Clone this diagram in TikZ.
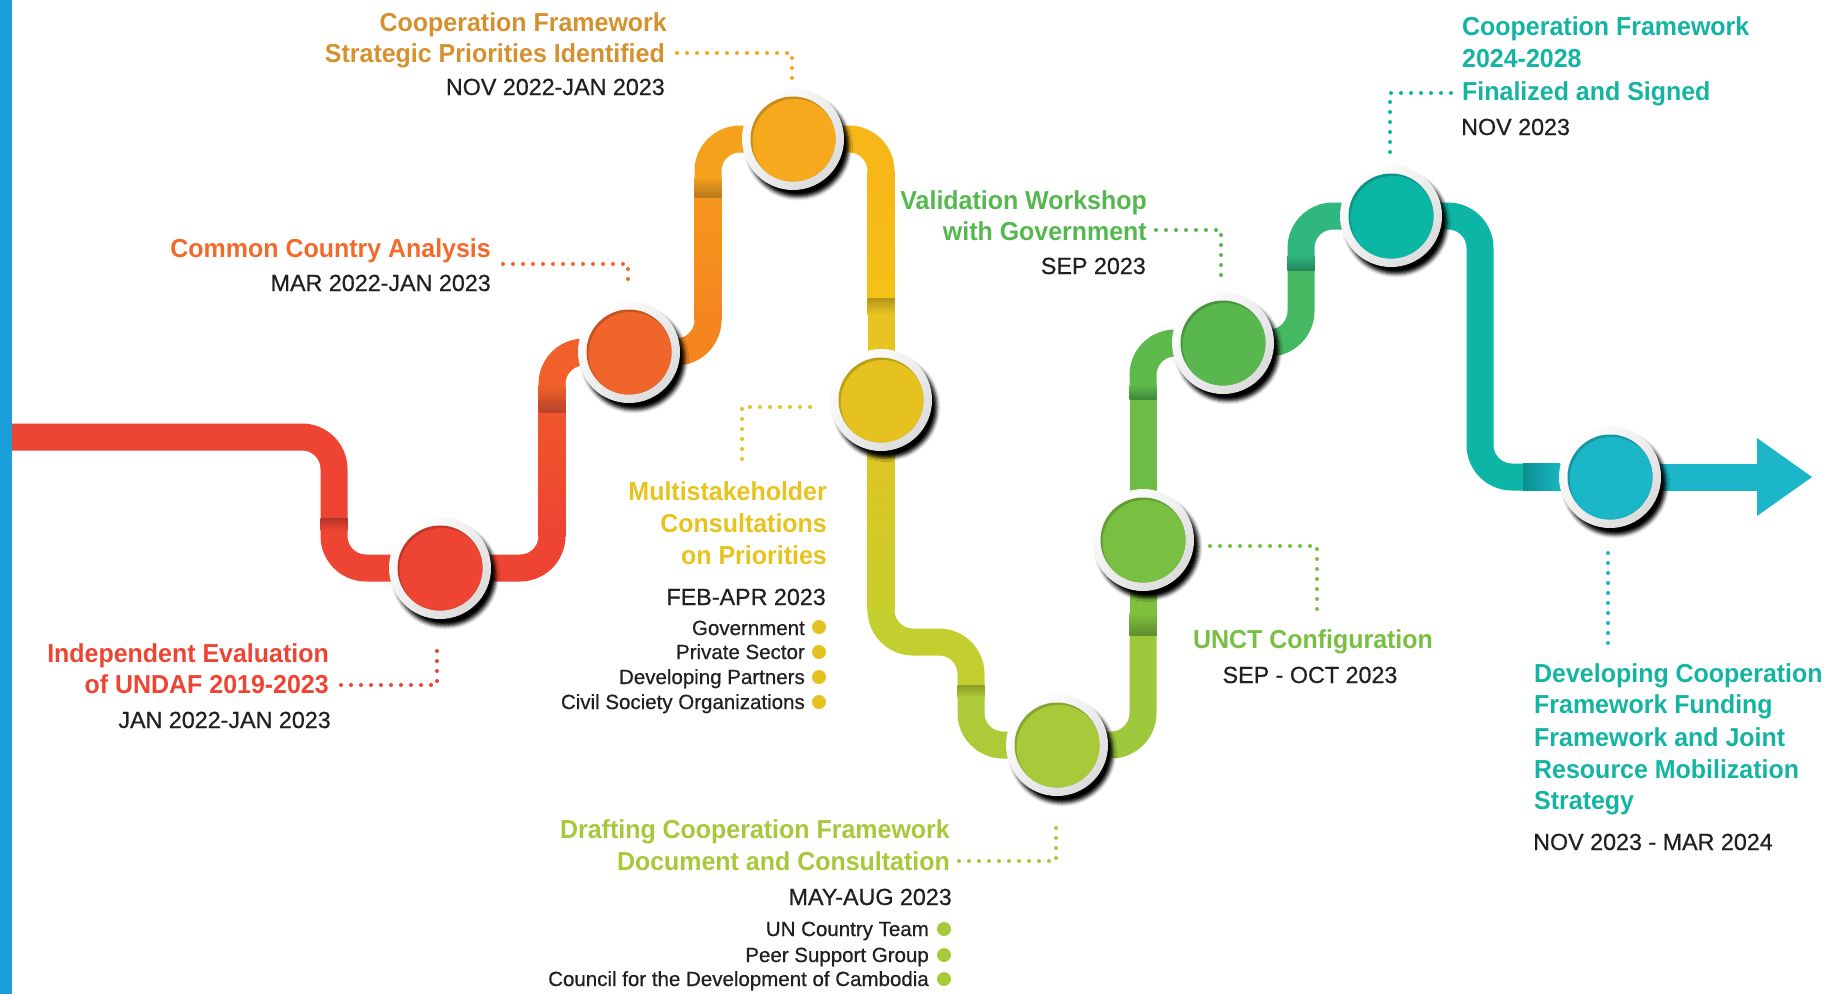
\documentclass[tikz,border=0pt]{standalone}
\usepackage{fontspec}
\setmainfont{Liberation Sans}
\newfontfamily\titlefont[FakeStretch=0.96]{Liberation Sans}
\newfontfamily\datefont[FakeBold=0.6]{Liberation Sans}
\usetikzlibrary{shadows.blur}
\definecolor{cBlue}{HTML}{1A9FDB}
\definecolor{cDark}{HTML}{231F20}
\definecolor{cC1}{HTML}{EE4433}
\definecolor{cC2}{HTML}{F0652A}
\definecolor{cC3}{HTML}{F7A91E}
\definecolor{cC4}{HTML}{E5C21F}
\definecolor{cC5}{HTML}{A8C93A}
\definecolor{cC6}{HTML}{78BF42}
\definecolor{cC7}{HTML}{58B84E}
\definecolor{cC8}{HTML}{0CB6A4}
\definecolor{cC9}{HTML}{1BB6C7}
\definecolor{cT1}{HTML}{EE4433}
\definecolor{cT2}{HTML}{F26A2A}
\definecolor{cT3}{HTML}{D4912E}
\definecolor{cT4}{HTML}{E8C31E}
\definecolor{cT5}{HTML}{A6C93A}
\definecolor{cT6}{HTML}{78BF42}
\definecolor{cT7}{HTML}{55B84F}
\definecolor{cT8}{HTML}{13B5A2}
% track colours
\definecolor{kA}{HTML}{B33327}
\definecolor{kB}{HTML}{F0552C}
\definecolor{kC}{HTML}{F1602A}
\definecolor{kCd}{HTML}{B8442A}
\definecolor{kD}{HTML}{F5851F}
\definecolor{kDt}{HTML}{F6961E}
\definecolor{kE}{HTML}{F6A11D}
\definecolor{kEd}{HTML}{B7791A}
\definecolor{kF}{HTML}{F8B719}
\definecolor{kFb}{HTML}{F4C117}
\definecolor{kGd}{HTML}{B2951A}
\definecolor{kG}{HTML}{E8C420}
\definecolor{kH}{HTML}{C2CF2E}
\definecolor{kHt}{HTML}{E0C524}
\definecolor{kHb}{HTML}{C8CE2C}
\definecolor{kId}{HTML}{8C9B26}
\definecolor{kI}{HTML}{ADCB38}
\definecolor{kJ}{HTML}{9DC83B}
\definecolor{kK}{HTML}{80C03F}
\definecolor{kKd}{HTML}{5F8E2F}
\definecolor{kL}{HTML}{6DBC45}
\definecolor{kM}{HTML}{5DB94B}
\definecolor{kMd}{HTML}{3F8A38}
\definecolor{kN}{HTML}{45B862}
\definecolor{kO}{HTML}{30B67F}
\definecolor{kOd}{HTML}{23865A}
\definecolor{kP}{HTML}{0DB5A6}
\definecolor{kPd}{HTML}{0A8F8F}
\definecolor{kQ}{HTML}{1AB5C4}
\begin{document}
\begin{tikzpicture}[x=1pt,y=-1pt,
  track/.style={line width=27pt, rounded corners=32pt},
  ring/.style={circle, minimum size=102pt, inner sep=0pt, top color=white, bottom color=black!14, shading angle=45,
    blur shadow={shadow xshift=5pt, shadow yshift=-7pt, shadow blur radius=3.5pt, shadow opacity=100}},
  core/.style={circle, minimum size=85pt, inner sep=0pt, fill=#1!82!black},
  dots/.style={draw=#1, line width=4pt, line cap=round, dash pattern=on 0pt off 10pt},
  ttl/.style={font=\titlefont\bfseries\fontsize{26}{30}\selectfont, text=#1, inner sep=0pt},
  dte/.style={font=\datefont\fontsize{23.3}{27}\selectfont, text=cDark, inner sep=0pt},
  itm/.style={font=\datefont\fontsize{20.5}{24}\selectfont, text=cDark, inner sep=0pt},
  bul/.style={circle, fill=#1, minimum size=14pt, inner sep=0pt}]
\useasboundingbox (0,0) rectangle (1825,994);
\fill[cBlue] (0,0) rectangle (12,994);
% circle centres
\coordinate (p1) at (440,568);
\coordinate (p2) at (629,352);
\coordinate (p3) at (793,139);
\coordinate (p4) at (881,400);
\coordinate (p5) at (1057,745);
\coordinate (p6) at (1143,540);
\coordinate (p7) at (1223,343);
\coordinate (p8) at (1391,216);
\coordinate (p9) at (1610,477);
\coordinate (start) at (12,437);
\coordinate (tip) at (1812,477);
% track
\draw[track, color=cC1] (start) -- (334,437) -- (334,518);
\draw[track, color=cC1] (334,518) -- (334,568) -- (p1);
\shade[top color=kA, bottom color=cC1] (320.5,518) rectangle (347.5,530);
\draw[track, color=cC1] (p1) -- (552,568) -- (552,412);
\shade[top color=kB, bottom color=cC1] (538.5,412) rectangle (565.5,536);
\draw[track, color=kC] (552,412) -- (552,352) -- (p2);
\shade[top color=kC, bottom color=kCd] (538.5,385) rectangle (565.5,412);
\draw[track, color=kD] (p2) -- (708,352) -- (708,197);
\shade[top color=kDt, bottom color=kD] (694.5,197) rectangle (721.5,320);
\draw[track, color=kE] (708,197) -- (708,139) -- (p3);
\shade[top color=kE, bottom color=kEd] (694.5,177) rectangle (721.5,197);
\draw[track, color=kF] (p3) -- (881,139) -- (881,298);
\shade[top color=kF, bottom color=kFb] (867.5,171) rectangle (894.5,298);
\draw[track, color=kG] (881,298) -- (p4);
\shade[top color=kGd, bottom color=kG] (867.5,298) rectangle (894.5,314);
\draw[track, color=kH] (p4) -- (881,642) -- (971,642) -- (971,685);
\shade[top color=kHt, bottom color=kHb] (867.5,440) rectangle (894.5,610);
\draw[track, color=kI] (971,685) -- (971,745) -- (p5);
\shade[top color=kId, bottom color=kI] (957.5,685) rectangle (984.5,697);
\draw[track, color=kJ] (p5) -- (1143,745) -- (1143,635);
\draw[track, color=kK] (1143,635) -- (p6);
\shade[top color=kK, bottom color=kKd] (1129.5,613) rectangle (1156.5,635);
\draw[track, color=kL] (p6) -- (1143,399);
\draw[track, color=kM] (1143,399) -- (1143,343) -- (p7);
\shade[top color=kM, bottom color=kMd] (1129.5,385) rectangle (1156.5,399);
\draw[track, color=kN] (p7) -- (1301,343) -- (1301,270);
\draw[track, color=kO] (1301,270) -- (1301,216) -- (p8);
\shade[top color=kO, bottom color=kOd] (1287.5,255) rectangle (1314.5,270);
\draw[track, color=kP] (p8) -- (1480,216) -- (1480,477) -- (1523,477);
\shade[left color=kPd, right color=kQ] (1523,463.5) rectangle (1560,490.5);
\draw[line width=27pt, color=cC9] (1560,477) -- (1757,477);
\fill[cC9] (1757,438) -- (tip) -- (1757,516) -- cycle;
% circles
\foreach \i/\c in {1/cC1,2/cC2,3/cC3,4/cC4,5/cC5,6/cC6,7/cC7,8/cC8,9/cC9}{
  \node[ring] (n\i) at (p\i) {};
  \node[core=\c] (k\i) at (p\i) {};
  \begin{scope}
    \clip (p\i) circle[radius=42.5pt];
    \fill[\c] ([xshift=1.6pt,yshift=-2pt]p\i) circle[radius=42pt];
  \end{scope}
}
% dotted connectors
\coordinate (d1a) at (341,685); \coordinate (d1b) at (437,685); \coordinate (d1c) at (437,649);
\draw[dots=cC1] (d1a) -- (d1b) -- (d1c);
\coordinate (d2a) at (503,264); \coordinate (d2b) at (628,264); \coordinate (d2c) at (628,289);
\draw[dots=cT2] (d2a) -- (d2b) -- (d2c);
\coordinate (d3a) at (677,53); \coordinate (d3b) at (792,53); \coordinate (d3c) at (792,79);
\draw[dots=cC3] (d3a) -- (d3b) -- (d3c);
\coordinate (d4a) at (810,407); \coordinate (d4b) at (742,407); \coordinate (d4c) at (742,468);
\draw[dots=cC4] (d4a) -- (d4b) -- (d4c);
\coordinate (d5a) at (959,861); \coordinate (d5b) at (1056,861); \coordinate (d5c) at (1056,824);
\draw[dots=cC5] (d5a) -- (d5b) -- (d5c);
\coordinate (d6a) at (1210,546); \coordinate (d6b) at (1317,546); \coordinate (d6c) at (1317,613);
\draw[dots=cC6] (d6a) -- (d6b) -- (d6c);
\coordinate (d7a) at (1156,230); \coordinate (d7b) at (1221,230); \coordinate (d7c) at (1221,279);
\draw[dots=cC7] (d7a) -- (d7b) -- (d7c);
\coordinate (d8a) at (1451,93); \coordinate (d8b) at (1390,93); \coordinate (d8c) at (1390,153);
\draw[dots=cC8] (d8a) -- (d8b) -- (d8c);
\coordinate (d9a) at (1608,553); \coordinate (d9b) at (1608,645);
\draw[dots=cC9] (d9a) -- (d9b);
% texts
\node[ttl=cT1, anchor=base east] (t1a) at (329,662) {Independent Evaluation};
\node[ttl=cT1, anchor=base east] (t1b) at (329,693) {of UNDAF 2019-2023};
\node[dte, anchor=base east] (t1c) at (331,728) {JAN 2022-JAN 2023};
\node[ttl=cT2, anchor=base east] (t2a) at (491,257) {Common Country Analysis};
\node[dte, anchor=base east] (t2b) at (491,291) {MAR 2022-JAN 2023};
\node[ttl=cT3, anchor=base east] (t3a) at (667,31) {Cooperation Framework};
\node[ttl=cT3, anchor=base east] (t3b) at (665,62) {Strategic Priorities Identified};
\node[dte, anchor=base east] (t3c) at (665,95) {NOV 2022-JAN 2023};
\node[ttl=cT4, anchor=base east] (t4a) at (827,500) {Multistakeholder};
\node[ttl=cT4, anchor=base east] (t4b) at (827,532) {Consultations};
\node[ttl=cT4, anchor=base east] (t4c) at (827,564) {on Priorities};
\node[dte, anchor=base east] (t4d) at (826,605) {FEB-APR 2023};
\node[itm, anchor=base east] (t4e) at (805,635) {Government};
\node[itm, anchor=base east] (t4f) at (805,659) {Private Sector};
\node[itm, anchor=base east] (t4g) at (805,684) {Developing Partners};
\node[itm, anchor=base east] (t4h) at (805,709) {Civil Society Organizations};
\node[bul=cC4] (b4e) at (819,627) {};
\node[bul=cC4] (b4f) at (819,652) {};
\node[bul=cC4] (b4g) at (819,677) {};
\node[bul=cC4] (b4h) at (819,702) {};
\node[ttl=cT5, anchor=base east] (t5a) at (950,838) {Drafting Cooperation Framework};
\node[ttl=cT5, anchor=base east] (t5b) at (950,870) {Document and Consultation};
\node[dte, anchor=base east] (t5c) at (952,905) {MAY-AUG 2023};
\node[itm, anchor=base east] (t5d) at (929,936) {UN Country Team};
\node[itm, anchor=base east] (t5e) at (929,962) {Peer Support Group};
\node[itm, anchor=base east] (t5f) at (929,986) {Council for the Development of Cambodia};
\node[bul=cC5] (b5d) at (944,929) {};
\node[bul=cC5] (b5e) at (944,955) {};
\node[bul=cC5] (b5f) at (944,979) {};
\node[ttl=cT7, anchor=base east] (t7a) at (1147,209) {Validation Workshop};
\node[ttl=cT7, anchor=base east] (t7b) at (1147,240) {with Government};
\node[dte, anchor=base east] (t7c) at (1146,274) {SEP 2023};
\node[ttl=cT6, anchor=base] (t6a) at (1313,648) {UNCT Configuration};
\node[dte, anchor=base] (t6b) at (1310,683) {SEP - OCT 2023};
\node[ttl=cT8, anchor=base west] (t8a) at (1462,35) {Cooperation Framework};
\node[ttl=cT8, anchor=base west] (t8b) at (1462,67) {2024-2028};
\node[ttl=cT8, anchor=base west] (t8c) at (1462,100) {Finalized and Signed};
\node[dte, anchor=base west] (t8d) at (1461,135) {NOV 2023};
\node[ttl=cT8, anchor=base west] (t9a) at (1534,682) {Developing Cooperation};
\node[ttl=cT8, anchor=base west] (t9b) at (1534,713) {Framework Funding};
\node[ttl=cT8, anchor=base west] (t9c) at (1534,746) {Framework and Joint};
\node[ttl=cT8, anchor=base west] (t9d) at (1534,778) {Resource Mobilization};
\node[ttl=cT8, anchor=base west] (t9e) at (1534,809) {Strategy};
\node[dte, anchor=base west] (t9f) at (1533,850) {NOV 2023 - MAR 2024};
\end{tikzpicture}
\end{document}
